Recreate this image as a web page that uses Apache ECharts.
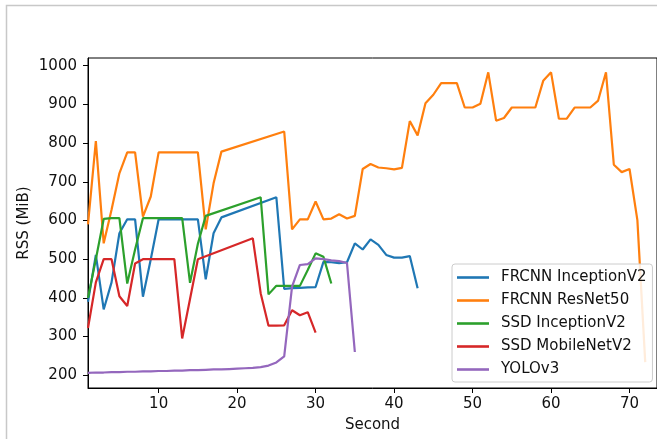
<!DOCTYPE html>
<html>
<head>
<meta charset="utf-8">
<script src="https://cdn.jsdelivr.net/npm/echarts@6/dist/echarts.min.js"></script>
<style>
html,body{margin:0;padding:0;background:#fff;}
#chart{width:657px;height:439px;}
</style>
</head>
<body>
<div id="chart"></div>
<script>
// Series names
const seriesNames = ['FRCNN InceptionV2', 'FRCNN ResNet50', 'SSD InceptionV2', 'SSD MobileNetV2', 'YOLOv3'];

// FRCNN InceptionV2
const frcnnIncX = [1,2,3,4,5,6,7,8,9,10,11,12,13,14,15,16,17,18,25,26,27,28,29,30,31,32,33,34,35,36,37,38,39,40,41,42,43];
const frcnnIncY = [390,511,370,440,567,603,603,403,500,603,603,603,603,603,603,448,567,608,660,423,425,426,427,428,493,492,490,492,541,525,551,537,511,504,504,508,425];

// FRCNN ResNet50
const frcnnResX = [1,2,3,4,5,6,7,8,9,10,11,12,13,14,15,16,17,18,26,27,28,29,30,31,32,33,34,35,36,37,38,39,40,41,42,43,44,45,46,47,48,49,50,51,52,53,54,55,56,57,58,59,60,61,62,63,64,65,66,67,68,69,70,71,72];
const frcnnResY = [590,805,541,628,722,776,776,610,662,776,776,776,776,776,776,577,696,778,830,577,603,603,649,603,605,616,605,612,733,746,737,735,732,736,857,820,903,925,955,955,955,892,892,902,983,858,865,892,892,892,892,961,983,863,863,892,892,892,910,983,744,725,733,601,234];

// SSD InceptionV2
const ssdIncX = [1,2,3,4,5,6,7,8,9,10,11,12,13,14,15,16,23,24,25,26,27,28,29,30,31,32];
const ssdIncY = [400,500,604,606,606,437,525,606,606,606,606,606,606,439,540,612,660,409,431,431,431,431,472,515,506,437];

// SSD MobileNetV2
const ssdMobX = [1,2,3,4,5,6,7,8,9,10,11,12,13,14,15,22,23,24,25,26,27,28,29,30];
const ssdMobY = [322,440,500,500,404,379,489,500,500,500,500,500,295,397,500,554,412,328,328,329,368,355,363,310];

// YOLOv3
const yoloX = [1,2,3,4,5,6,7,8,9,10,11,12,13,14,15,16,17,18,19,20,21,22,23,24,25,26,27,28,29,30,31,32,33,34,35];
const yoloY = [206,207,207,208,208,209,209,210,210,211,211,212,212,213,213,214,215,215,216,217,218,219,221,225,233,249,429,485,487,502,500,497,495,490,260];

// Tick labels
const xTicks = [10,20,30,40,50,60,70];
const yTicks = [200,300,400,500,600,700,800,900,1000];

const colors = ['#1f77b4','#ff7f0e','#2ca02c','#d62728','#9467bd'];
const xsList = [frcnnIncX, frcnnResX, ssdIncX, ssdMobX, yoloX];
const ysList = [frcnnIncY, frcnnResY, ssdIncY, ssdMobY, yoloY];

function pairs(xs, ys){ return xs.map((x,i)=>[x, ys[i]]); }

const FONT = 'DejaVu Sans';
const chart = echarts.init(document.getElementById('chart'), null, {renderer:'canvas'});

const series = seriesNames.map((name, i) => ({
  name: name,
  type: 'line',
  data: pairs(xsList[i], ysList[i]),
  symbol: 'none',
  showSymbol: false,
  lineStyle: {color: colors[i], width: 2.2},
  itemStyle: {color: colors[i]},
  emphasis: {disabled: true},
  animation: false
}));

chart.setOption({
  animation: false,
  color: colors,
  graphic: [{
    type: 'rect',
    shape: {x: 6.5, y: 5.5, width: 700, height: 500},
    style: {fill: 'none', stroke: '#c8c8c8', lineWidth: 1.5},
    silent: true,
    z: 0
  }],
  grid: {
    left: 88, right: -2, top: 58, bottom: 51,
    show: true, borderColor: '#000', borderWidth: 1, backgroundColor: 'transparent'
  },
  xAxis: {
    type: 'value',
    min: 1, max: 73.5,
    name: 'Second', nameLocation: 'middle', nameGap: 30, nameMoveOverlap: false,
    nameTextStyle: {fontFamily: FONT, fontSize: 15, color: '#111'},
    axisLine: {show: true, lineStyle: {color: '#000', width: 1}},
    axisTick: {show: true, inside: false, length: 5, lineStyle: {color: '#000'}, customValues: xTicks},
    axisLabel: {fontFamily: FONT, fontSize: 15, color: '#111', margin: 9, customValues: xTicks,
      formatter: v => String(v)},
    splitLine: {show: false}
  },
  yAxis: {
    type: 'value',
    min: 167, max: 1020,
    name: 'RSS (MiB)', nameLocation: 'middle', nameGap: 56, nameRotate: 90, nameMoveOverlap: false,
    nameTextStyle: {fontFamily: FONT, fontSize: 15, color: '#111'},
    axisLine: {show: true, lineStyle: {color: '#000', width: 1}},
    axisTick: {show: true, inside: false, length: 5, lineStyle: {color: '#000'}, customValues: yTicks},
    axisLabel: {fontFamily: FONT, fontSize: 15, color: '#111', margin: 11, customValues: yTicks,
      formatter: v => String(v)},
    splitLine: {show: false}
  },
  legend: {
    orient: 'vertical',
    left: 452, top: 264,
    data: seriesNames,
    icon: 'rect',
    itemWidth: 32, itemHeight: 2.6, itemGap: 8,
    padding: [6, 6, 5, 5],
    backgroundColor: 'rgba(255,255,255,0.85)',
    borderColor: '#cccccc', borderWidth: 1, borderRadius: 3,
    textStyle: {fontFamily: FONT, fontSize: 15, lineHeight: 14, color: '#111', padding: [0,0,0,7]},
    selectedMode: false
  },
  series: series
});
</script>
</body>
</html>
